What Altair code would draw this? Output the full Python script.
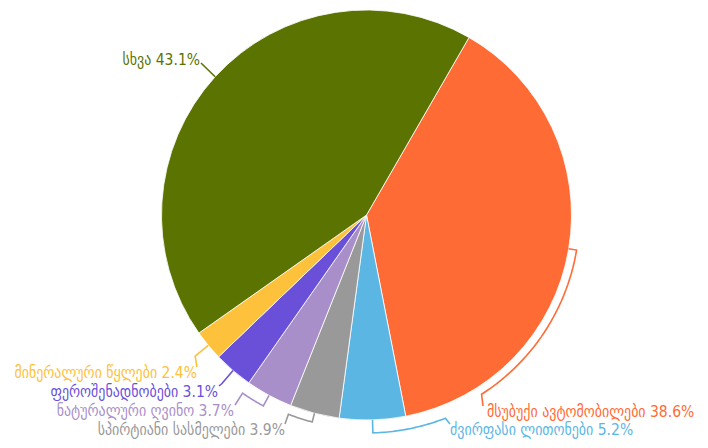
import math
import altair as alt
import pandas as pd

# ---- data ----
categories = ["მსუბუქი ავტომობილები", "ძვირფასი ლითონები", "სპირტიანი სასმელები",
              "ნატურალური ღვინო", "ფეროშენადნობები", "მინერალური წყლები", "სხვა"]
values = [38.6, 5.2, 3.9, 3.7, 3.1, 2.4, 43.1]
colors = ["#ff6b35", "#5cb6e4", "#999999", "#a98fc9", "#6a50d9", "#fdc13b", "#5b7300"]

# ---- layout (page pixels) ----
W, H = 692, 432
OFF = 8
CX, CY, R = 366.5 - OFF, 215 - OFF, 205
START_DEG = 30
line_r = [213, 218, 214, 217, 222, 222, 205]
turn_deg = [147.3, 158.8, 201.4, 214.8, None, None, None]
attach = [(483, 406), (450, 424), (285, 424), (235, 405), (219, 386), (197, 367), (201, 63)]
label_xy = [(487, 412), (450, 430), (285, 430), (234, 411), (218, 392), (197, 373), (200, 60)]
label_align = ["left", "left", "right", "right", "right", "right", "right"]
FONT = "DejaVu Sans Condensed"
FONT_SIZE = 15.5

total = sum(values)
start_rad = math.radians(START_DEG)

pie_df = pd.DataFrame({"cat": categories, "value": values, "idx": list(range(len(values)))})


def pt(deg, r):
    a = math.radians(deg)
    return CX + r * math.sin(a), CY - r * math.cos(a)


rows = []
labels = []
cum = 0.0
for i, (c, v) in enumerate(zip(categories, values)):
    mid = START_DEG + (cum + v / 2) / total * 360
    cum += v
    pts = [pt(mid, R), pt(mid, line_r[i])]
    if turn_deg[i] is not None:
        n = 30
        for k in range(1, n + 1):
            d = mid + (turn_deg[i] - mid) * k / n
            pts.append(pt(d, line_r[i]))
    pts.append((attach[i][0] - OFF, attach[i][1] - OFF))
    for j, (x, y) in enumerate(pts):
        rows.append({"cat": c, "o": j, "x": x, "y": y})
    labels.append({"cat": c, "text": f"{c} {v}%", "x": label_xy[i][0] - OFF,
                   "y": label_xy[i][1] - OFF, "align": label_align[i]})

line_df = pd.DataFrame(rows)
label_df = pd.DataFrame(labels)

color_scale = alt.Scale(domain=categories, range=colors)
xs = alt.Scale(domain=[0, W], range=[0, W], nice=False, zero=False)
ys = alt.Scale(domain=[0, H], range=[0, H], nice=False, zero=False)

pie = alt.Chart(pie_df).mark_arc(outerRadius=R, stroke="white", strokeWidth=0.8).encode(
    theta=alt.Theta("value:Q", stack=True,
                    scale=alt.Scale(range=[start_rad, start_rad + 2 * math.pi])),
    color=alt.Color("cat:N", scale=color_scale, legend=None),
    order=alt.Order("idx:Q"),
    x=alt.value(CX),
    y=alt.value(CY),
)

lines = alt.Chart(line_df).mark_line(strokeWidth=1.6, interpolate="linear").encode(
    x=alt.X("x:Q", scale=xs, axis=None),
    y=alt.Y("y:Q", scale=ys, axis=None),
    color=alt.Color("cat:N", scale=color_scale, legend=None),
    detail="cat:N",
    order="o:Q",
)

def text_layer(al):
    return alt.Chart(label_df).transform_filter(alt.datum.align == al).mark_text(
        align=al, baseline="middle", font=FONT, fontSize=FONT_SIZE
    ).encode(
        x=alt.X("x:Q", scale=xs, axis=None),
        y=alt.Y("y:Q", scale=ys, axis=None),
        text="text:N",
        color=alt.Color("cat:N", scale=color_scale, legend=None),
    )

chart = alt.layer(pie, lines, text_layer("left"), text_layer("right")).properties(
    width=W, height=H, autosize=alt.AutoSizeParams(type="none"), padding=0
).configure_view(stroke=None)

chart.save("out.html", embed_options={"renderer": "svg", "actions": False})
